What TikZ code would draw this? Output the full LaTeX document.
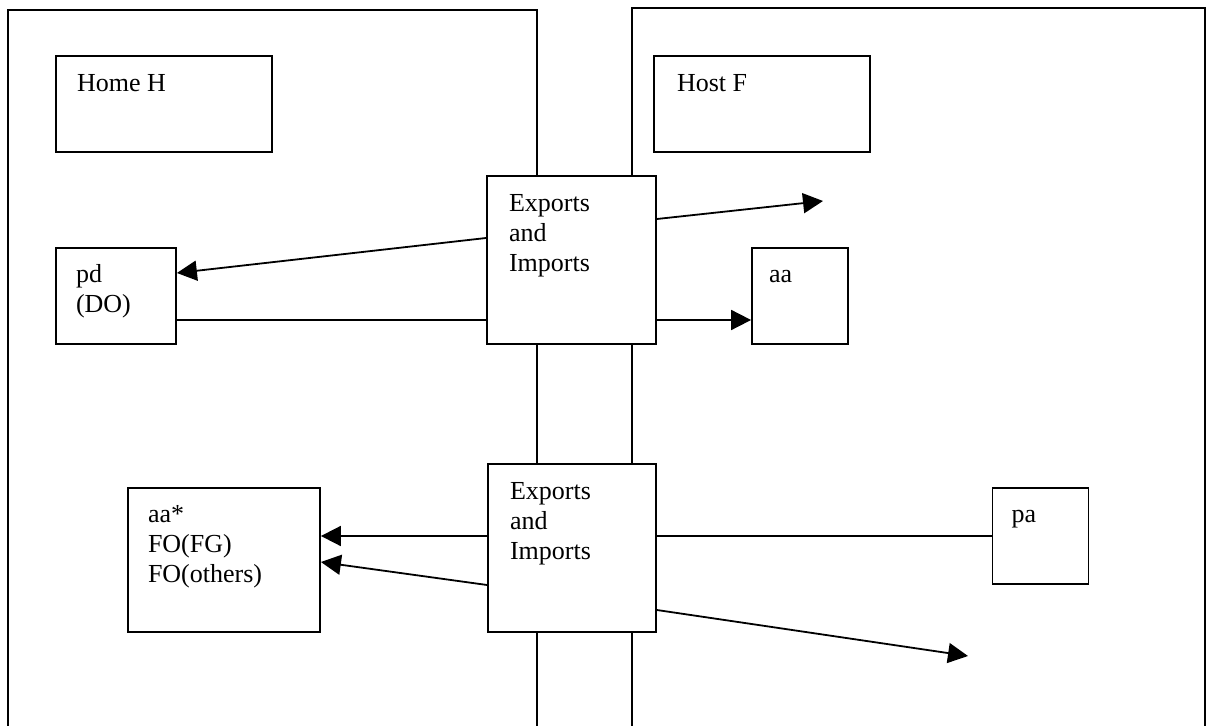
\documentclass[tikz,border=0pt]{standalone}
\usepackage{fontspec}
\setmainfont{Liberation Serif}
\usetikzlibrary{arrows.meta}
\begin{document}
\begin{tikzpicture}[>={Triangle[length=10pt,width=10pt]}, x=0.5pt, y=-0.5pt, line width=0.9pt,
  box/.style={draw, fill=white, inner sep=0pt},
  txt/.style={anchor=north west, inner sep=0pt, align=left, font=\fontsize{13}{15}\selectfont}]
\useasboundingbox (0,0) rectangle (1208,726);
\draw (8,726)--(8,10)--(537,10)--(537,726);
\draw (632,726)--(632,8)--(1205,8)--(1205,726);
\node[box, minimum width=108pt, minimum height=48pt] (home) at (164,104) {};
\node[box, minimum width=108pt, minimum height=48pt] (host) at (762,104) {};
\node[box, minimum width=84.5pt, minimum height=84pt] (ex1) at (571.5,260) {};
\node[box, minimum width=84pt, minimum height=84pt] (ex2) at (572,548) {};
\node[box, minimum width=60pt, minimum height=48pt] (pd) at (116,296) {};
\node[box, minimum width=48pt, minimum height=48pt] (aa) at (800,296) {};
\node[box, minimum width=96pt, minimum height=72pt] (aastar) at (224,560) {};
\node[box, minimum width=48pt, minimum height=48pt] (pa) at (1040.5,536) {};
\node[txt] (homeT) at ([shift={(21,15)}]home.north west) {\strut Home H};
\node[txt] (hostT) at ([shift={(23,15)}]host.north west) {\strut Host F};
\node[txt] (ex1T) at ([shift={(22,15)}]ex1.north west) {\strut Exports\\and\\Imports};
\node[txt] (ex2T) at ([shift={(22,14)}]ex2.north west) {\strut Exports\\and\\Imports};
\node[txt] (pdT) at ([shift={(20,14)}]pd.north west) {\strut pd\\(DO)};
\node[txt] (aaT) at ([shift={(17,14)}]aa.north west) {\strut aa};
\node[txt] (aastarT) at ([shift={(20,13)}]aastar.north west) {\strut aa*\\FO(FG)\\FO(others)};
\node[txt] (paT) at ([shift={(19,13)}]pa.north west) {\strut pa};
\coordinate (outF) at (823,201);
\coordinate (outS) at (968,656);
\draw[->] ([shift={(0,-22)}]ex1.west) -- ([shift={(0,-23)}]pd.east);
\draw ([shift={(0,24)}]pd.east) -- ([shift={(0,60)}]ex1.west);
\draw[->] ([shift={(0,60)}]ex1.east) -- ([shift={(0,24)}]aa.west);
\draw[->] ([shift={(0,-41)}]ex1.east) -- (outF);
\draw[->] ([shift={(0,-12)}]ex2.west) -- ([shift={(0,-24)}]aastar.east);
\draw[->] ([shift={(0,37)}]ex2.west) -- ([shift={(0,2)}]aastar.east);
\draw (pa.west) -- ([shift={(0,-12)}]ex2.east);
\draw[->] ([shift={(0,62)}]ex2.east) -- (outS);
\end{tikzpicture}
\end{document}
